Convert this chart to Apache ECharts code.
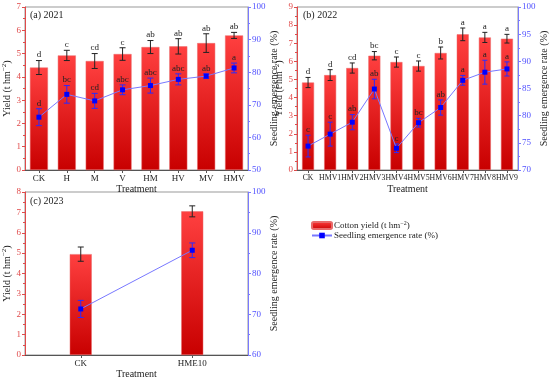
<!DOCTYPE html>
<html><head><meta charset="utf-8">
<script src="https://cdn.jsdelivr.net/npm/echarts@6/dist/echarts.min.js"></script>
<style>html,body{margin:0;padding:0;background:#fff}#c{width:550px;height:378px}</style>
</head><body><div id="c"></div>
<script>
// ---- data ----
const catsA = ['CK','H','M','V','HM','HV','MV','HMV'];
const yieldA = [4.4,4.92,4.68,4.98,5.28,5.31,5.45,5.78];
const yieldErrA = [0.3,0.22,0.32,0.27,0.28,0.33,0.4,0.13];
const yieldLetA = ['d','c','cd','c','ab','ab','ab','ab'];
const emergA = [66.2,73.2,71.2,74.6,75.9,77.8,78.8,81.3];
const emergErrA = [2.6,2.7,2.3,1.5,2.3,1.7,0.7,1.5];
const emergLetA = ['d','bc','cd','abc','abc','abc','ab','a'];

const catsB = ['CK','HMV1','HMV2','HMV3','HMV4','HMV5','HMV6','HMV7','HMV8','HMV9'];
const yieldB = [4.83,5.24,5.63,6.31,5.96,5.74,6.46,7.49,7.32,7.25];
const yieldErrB = [0.28,0.3,0.28,0.23,0.28,0.28,0.33,0.35,0.28,0.24];
const yieldLetB = ['d','d','cd','bc','c','c','b','a','a','a'];
const emergB = [74.4,76.6,78.8,84.9,74.0,78.7,81.5,86.5,88.0,88.6];
const emergErrB = [2.0,2.2,1.4,1.8,0.8,0.8,1.4,0.9,2.2,1.3];
const emergLetB = ['c','c','ab','ab','c','bc','ab','a','a','a'];

const catsC = ['CK','HME10'];
const yieldC = [4.95,7.05];
const yieldErrC = [0.35,0.27];
const emergC = [71.3,85.7];
const emergErrC = [2.1,1.8];

const yTicksA = {min:0,max:7,interval:1}, rTicksA = {min:50,max:100,interval:10};
const yTicksB = {min:0,max:9,interval:1}, rTicksB = {min:70,max:100,interval:5};
const yTicksC = {min:0,max:8,interval:1}, rTicksC = {min:60,max:100,interval:10};

// ---- styles ----
const FONT = 'Liberation Serif';
const RED = '#e04a4a', BLUE = '#5050ff';
const chart = echarts.init(document.getElementById('c'), null, {renderer:'canvas'});

function gridDef(l,t,w,h){return {left:l,top:t,width:w,height:h,show:true,borderColor:'#999',borderWidth:1,backgroundColor:'transparent',outerBoundsMode:'none'};}
function xAx(gi,cats,nameGap,fs){
  return {type:'category',gridIndex:gi,data:cats,name:'Treatment',nameLocation:'middle',nameGap:nameGap,
    nameTextStyle:{fontFamily:FONT,fontSize:10,color:'#222'},
    axisLine:{lineStyle:{color:'#555',width:1}},axisTick:{show:true,alignWithLabel:true,length:3,lineStyle:{color:'#555'}},
    axisLabel:{interval:0,fontFamily:FONT,fontSize:fs,color:'#222',margin:4},splitLine:{show:false}};
}
function yLeft(gi,t,nameGap){
  return Object.assign({type:'value',gridIndex:gi,position:'left',name:'Yield (t hm{s|\u22122})',nameLocation:'middle',nameGap:nameGap,nameRotate:90,
    nameTextStyle:{fontFamily:FONT,fontSize:10,color:'#222',rich:{s:{fontFamily:FONT,fontSize:7,verticalAlign:'top',padding:[0,0,5,0]}}},
    axisLine:{show:true,lineStyle:{color:RED,width:1}},axisTick:{show:true,length:3,lineStyle:{color:RED}},
    minorTick:{show:true,splitNumber:2,length:2,lineStyle:{color:RED}},
    axisLabel:{fontFamily:FONT,fontSize:9,color:RED,margin:4},splitLine:{show:false}},t);
}
function yRight(gi,t,nameGap){
  return Object.assign({type:'value',gridIndex:gi,position:'right',name:'Seedling emergence rate (%)',nameLocation:'middle',nameGap:nameGap,nameRotate:90,
    nameTextStyle:{fontFamily:FONT,fontSize:10,color:'#222'},
    axisLine:{show:true,lineStyle:{color:'#7a7aff',width:1}},axisTick:{show:true,length:3,lineStyle:{color:'#7a7aff'}},
    minorTick:{show:true,splitNumber:2,length:2,lineStyle:{color:'#7a7aff'}},
    axisLabel:{fontFamily:FONT,fontSize:9,color:BLUE,margin:4},splitLine:{show:false}},t);
}
const barGrad = new echarts.graphic.LinearGradient(0,0,0,1,[{offset:0,color:'#ff4040'},{offset:1,color:'#c80000'}]);
function barS(xi,yi,vals,bw){
  return {name:'Cotton yield',type:'bar',xAxisIndex:xi,yAxisIndex:yi,data:vals,barWidth:bw,
    itemStyle:{color:barGrad,borderColor:'#e86a6a',borderWidth:0.5},z:2};
}
function lineS(xi,yi,vals){
  return {name:'Seedling emergence rate',type:'line',xAxisIndex:xi,yAxisIndex:yi,data:vals,symbol:'rect',symbolSize:5,
    itemStyle:{color:'#0000ff'},lineStyle:{color:'#7878ff',width:1},z:5};
}
function errS(xi,yi,vals,errs,lets,color,cap,z){
  const data = vals.map((v,i)=>[i,v,errs[i],lets?lets[i]:'']);
  return {type:'custom',xAxisIndex:xi,yAxisIndex:yi,data:data,encode:{x:0,y:1},z:z,silent:true,
    renderItem:function(params,api){
      const i=api.value(0),v=api.value(1),e=api.value(2);
      const let_=data[params.dataIndex][3];
      const top=api.coord([i,v+e]),bot=api.coord([i,v-e]);
      const ls={stroke:color,lineWidth:1};
      const ch=[
        {type:'line',shape:{x1:top[0],y1:top[1],x2:bot[0],y2:bot[1]},style:ls},
        {type:'line',shape:{x1:top[0]-cap,y1:top[1],x2:top[0]+cap,y2:top[1]},style:ls},
        {type:'line',shape:{x1:bot[0]-cap,y1:bot[1],x2:bot[0]+cap,y2:bot[1]},style:ls}
      ];
      if(let_){ch.push({type:'text',style:{text:let_,x:top[0],y:top[1]-1,textAlign:'center',textVerticalAlign:'bottom',fontFamily:FONT,fontSize:9,fill:'#222'}});}
      return {type:'group',children:ch};
    }};
}

const option = {
  animation:false,
  backgroundColor:'#fff',
  grid:[gridDef(25,7,223,163),gridDef(297,7,221,163),gridDef(25,192,223,163)],
  xAxis:[xAx(0,catsA,13,9),xAx(1,catsB,14,7.8),xAx(2,catsC,12,9)],
  yAxis:[
    yLeft(0,yTicksA,12),yRight(0,rTicksA,18),
    yLeft(1,yTicksB,9),yRight(1,rTicksB,18),
    yLeft(2,yTicksC,12),yRight(2,rTicksC,18)
  ],
  legend:{data:['Cotton yield','Seedling emergence rate'],orient:'vertical',left:306,top:215,itemWidth:20,itemHeight:7,itemGap:1,
    formatter:function(n){return n==='Cotton yield'?'Cotton yield (t hm{s|\u22122})':'Seedling emergence rate (%)';},
    textStyle:{fontFamily:FONT,fontSize:9,color:'#222',padding:[0,0,0,-3],rich:{s:{fontFamily:FONT,fontSize:6,verticalAlign:'top',padding:[0,0,5,0]}}}},
  graphic:[
    {type:'text',left:30,top:10,style:{text:'(a) 2021',fontFamily:FONT,fontSize:10,fill:'#222'}},
    {type:'text',left:303,top:10,style:{text:'(b) 2022',fontFamily:FONT,fontSize:10,fill:'#222'}},
    {type:'text',left:30,top:196,style:{text:'(c) 2023',fontFamily:FONT,fontSize:10,fill:'#222'}}
  ],
  series:[
    barS(0,0,yieldA,18), errS(0,0,yieldA,yieldErrA,yieldLetA,'#222',3,3),
    lineS(0,1,emergA), errS(0,1,emergA,emergErrA,emergLetA,'#2a2aff',3,4),
    barS(1,2,yieldB,12), errS(1,2,yieldB,yieldErrB,yieldLetB,'#222',2.5,3),
    lineS(1,3,emergB), errS(1,3,emergB,emergErrB,emergLetB,'#2a2aff',2.5,4),
    barS(2,4,yieldC,22), errS(2,4,yieldC,yieldErrC,null,'#222',3,3),
    lineS(2,5,emergC), errS(2,5,emergC,emergErrC,null,'#2a2aff',3,4)
  ]
};
chart.setOption(option);
</script></body></html>
